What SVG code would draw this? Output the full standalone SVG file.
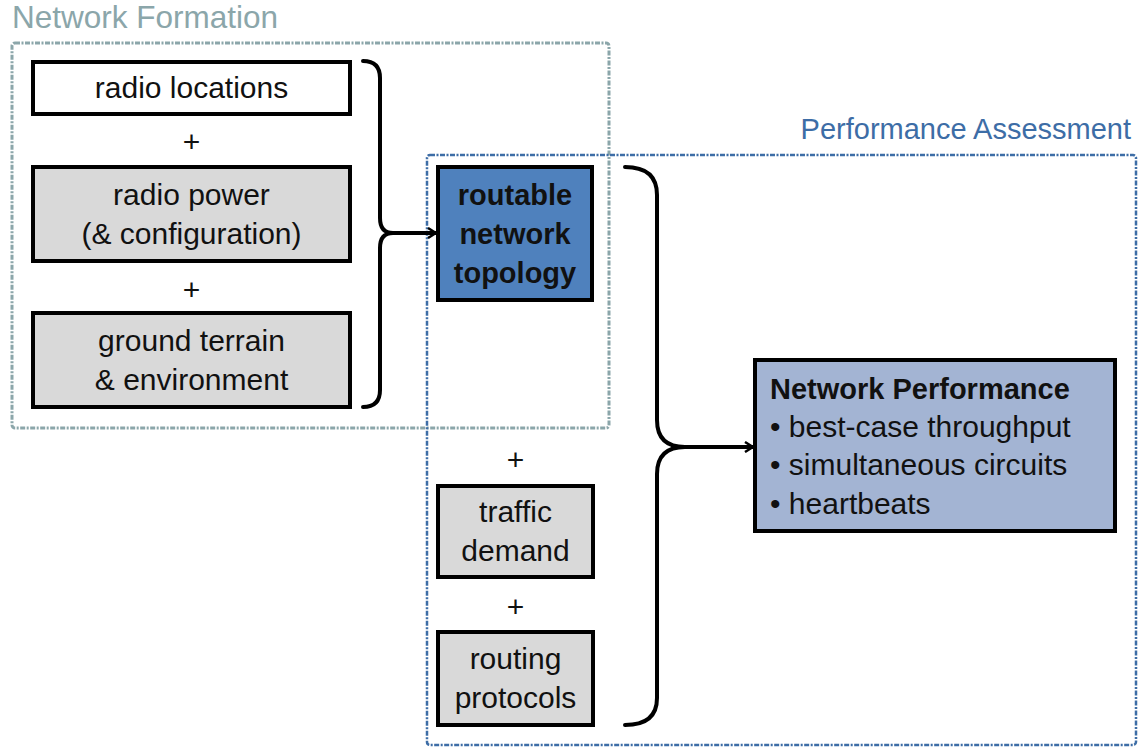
<svg xmlns="http://www.w3.org/2000/svg" width="1142" height="747" viewBox="0 0 1142 747">
<style>
  text { font-family: "Liberation Sans", Arial, sans-serif; font-size: 30px; fill: #111; }
  .c { text-anchor: middle; }
  .b { font-weight: bold; font-size: 29px; }
  .box { stroke: #000; stroke-width: 4; }
  .white { fill: #fff; }
  .gray { fill: #d9d9d9; }
  .blue { fill: #4f81bd; }
  .light { fill: #a3b4d3; }
  .conn { fill: none; stroke: #000; stroke-width: 4; stroke-linecap: round; }
  .grp1 { fill: none; stroke: #8ba6aa; stroke-width: 3; stroke-dasharray: 5 1.5 2 1.5; }
  .grp2 { fill: none; stroke: #3d6da6; stroke-width: 2.5; stroke-dasharray: 5 1.5 2 1.5; }
</style>
<defs>
  <marker id="arr" viewBox="0 0 10 12" refX="9" refY="6" markerWidth="10" markerHeight="12" markerUnits="userSpaceOnUse" orient="auto">
    <path d="M1,1 L9,6 L1,11" fill="none" stroke="#000" stroke-width="2.5"/>
  </marker>
</defs>
<rect width="1142" height="747" fill="#fff"/>

<g id="group-formation">
  <rect class="grp1" x="12" y="43" width="597" height="385" rx="3"/>
  <text x="12" y="28" style="fill:#8ba6aa;font-size:31.5px">Network Formation</text>
</g>
<g id="group-assessment">
  <rect class="grp2" x="427" y="155" width="709" height="590" rx="3"/>
  <text x="1131" y="139" style="fill:#3d6da6;text-anchor:end;font-size:29px">Performance Assessment</text>
</g>

<g id="radio-locations">
  <rect class="box white" x="33" y="62" width="317" height="52"/>
  <text class="c" x="191.5" y="98">radio locations</text>
</g>
<g id="plus1"><text class="c" x="191.5" y="152">+</text></g>
<g id="radio-power">
  <rect class="box gray" x="33" y="167" width="317" height="94"/>
  <text class="c" x="191.5" y="205">radio power</text>
  <text class="c" x="191.5" y="244">(&amp; configuration)</text>
</g>
<g id="plus2"><text class="c" x="191.5" y="300">+</text></g>
<g id="ground-terrain">
  <rect class="box gray" x="33" y="313" width="317" height="94"/>
  <text class="c" x="191.5" y="351">ground terrain</text>
  <text class="c" x="191.5" y="390">&amp; environment</text>
</g>

<g id="routable-topology">
  <rect class="box blue" x="438" y="167" width="154" height="133"/>
  <text class="c b" x="515" y="205">routable</text>
  <text class="c b" x="515" y="244">network</text>
  <text class="c b" x="515" y="283">topology</text>
</g>
<g id="plus3"><text class="c" x="515.5" y="470">+</text></g>
<g id="traffic-demand">
  <rect class="box gray" x="438" y="486" width="155" height="91"/>
  <text class="c" x="515.5" y="522">traffic</text>
  <text class="c" x="515.5" y="561">demand</text>
</g>
<g id="plus4"><text class="c" x="515.5" y="617">+</text></g>
<g id="routing-protocols">
  <rect class="box gray" x="438" y="632" width="155" height="93"/>
  <text class="c" x="515.5" y="669">routing</text>
  <text class="c" x="515.5" y="708">protocols</text>
</g>

<g id="network-performance">
  <rect class="box light" x="755" y="360" width="360" height="171"/>
  <text class="b" x="770" y="399">Network Performance</text>
  <text x="770" y="437">• best-case throughput</text>
  <text x="770" y="475">• simultaneous circuits</text>
  <text x="770" y="514">• heartbeats</text>
</g>

<g id="connectors">
  <path class="conn" d="M363,61 Q380,61 380,78 L380,218 Q380,233 393,233 Q380,233 380,248 L380,390 Q380,407 363,407"/>
  <path class="conn" d="M393,233 L436,233" marker-end="url(#arr)"/>
  <path class="conn" d="M625,167 Q657,167 657,195 L657,420 Q657,447 685,447 Q657,447 657,474 L657,698 Q657,725 625,725"/>
  <path class="conn" d="M685,447 L753,447" marker-end="url(#arr)"/>
</g>
</svg>
